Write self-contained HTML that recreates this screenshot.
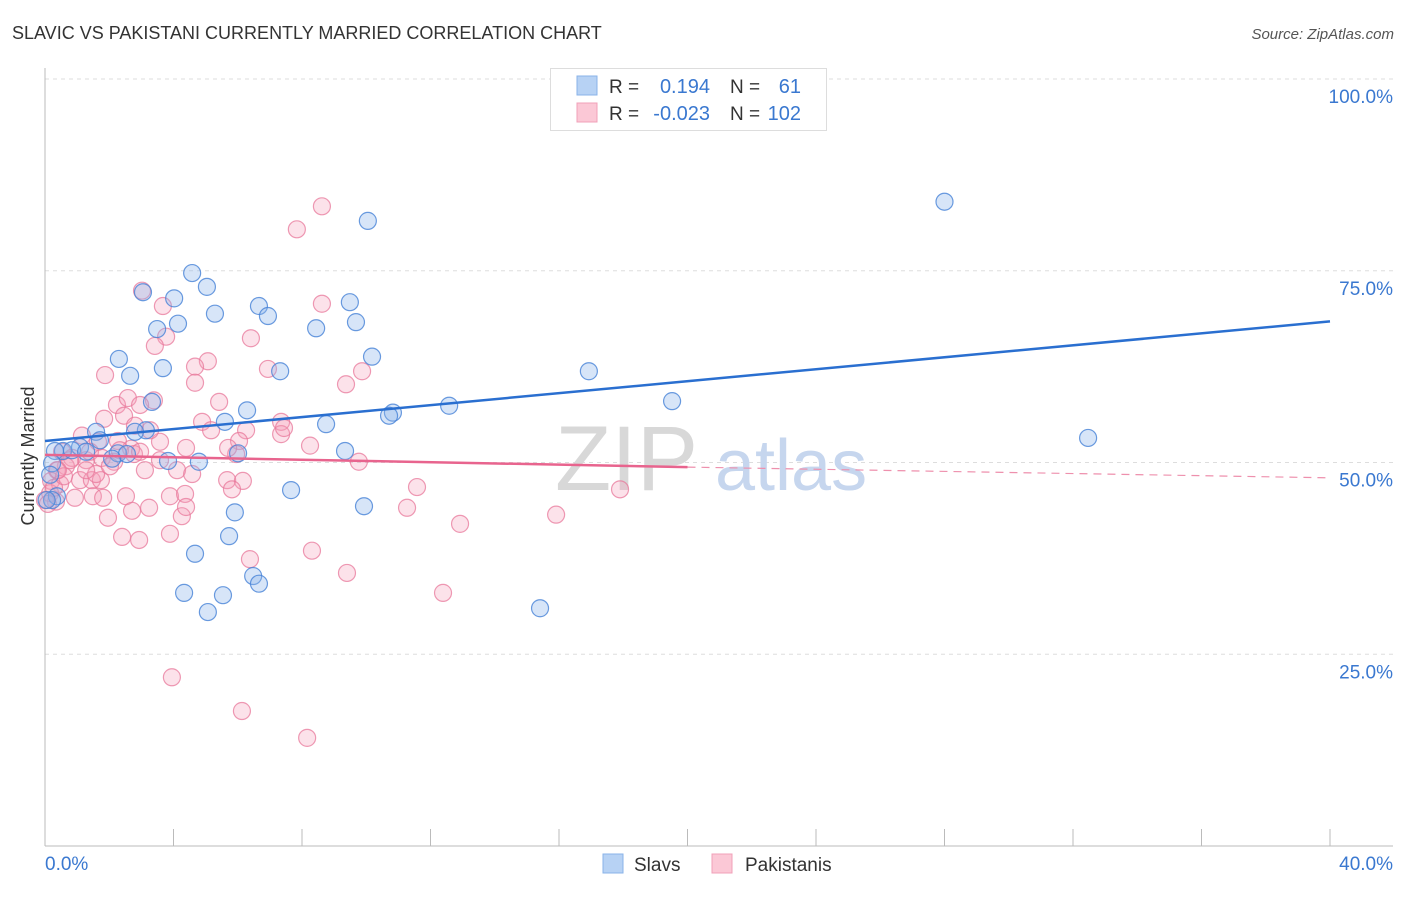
<!DOCTYPE html>
<html><head><meta charset="utf-8"><style>
body{margin:0;background:#fff;font-family:"Liberation Sans",sans-serif;}
svg text{font-family:"Liberation Sans",sans-serif;}
</style></head><body>
<svg id="chart" width="1406" height="892" viewBox="0 0 1406 892">
<text x="12" y="39" font-size="18" fill="#333">SLAVIC VS PAKISTANI CURRENTLY MARRIED CORRELATION CHART</text>
<text x="1394" y="39" font-size="15" fill="#555" font-style="italic" text-anchor="end">Source: ZipAtlas.com</text>
<g id="grid"></g>
<g>
<text x="555" y="490" font-size="92" fill="#d8d8d8" font-family="Liberation Serif">ZIP</text>
<text x="715" y="490" font-size="72" fill="#c6d6ee">atlas</text>
</g>
<g id="axes"></g>
<g id="pts"></g>
<g id="trends"></g>
<text transform="translate(34,456) rotate(-90)" font-size="18" fill="#333" text-anchor="middle">Currently Married</text>
<g>
<rect x="550.5" y="68.5" width="276" height="62" fill="#fff" stroke="#ddd"/>
<rect x="577" y="76" width="20" height="19" fill="#b7d2f4" stroke="#8ab3e8"/>
<rect x="577" y="103" width="20" height="19" fill="#fbc8d6" stroke="#f0a0b8"/>
<text x="609" y="93" font-size="19" fill="#333">R =</text>
<text x="710" y="93" font-size="20" fill="#3a78d0" text-anchor="end">0.194</text>
<text x="730" y="93" font-size="19" fill="#333">N =</text>
<text x="801" y="93" font-size="20" fill="#3a78d0" text-anchor="end">61</text>
<text x="609" y="120" font-size="19" fill="#333">R =</text>
<text x="710" y="120" font-size="20" fill="#3a78d0" text-anchor="end">-0.023</text>
<text x="730" y="120" font-size="19" fill="#333">N =</text>
<text x="801" y="120" font-size="20" fill="#3a78d0" text-anchor="end">102</text>
</g>
<g>
<rect x="603" y="854" width="20" height="19" fill="#b7d2f4" stroke="#8ab3e8"/>
<text x="634" y="871" font-size="19" fill="#333">Slavs</text>
<rect x="712" y="854" width="20" height="19" fill="#fbc8d6" stroke="#f0a0b8"/>
<text x="745" y="871" font-size="19" fill="#333">Pakistanis</text>
</g>
</svg>
<script>
const yTicks=[100,75,50,25];
const yTickLabels=["100.0%","75.0%","50.0%","25.0%"];
const xTicks=[0,4,8,12,16,20,24,28,32,36,40];
const xEndLabels=["0.0%","40.0%"];
const slavX=[28.0,10.05,4.58,5.04,3.05,4.02,9.49,6.66,6.94,5.29,3.49,4.14,8.44,9.68,10.18,2.30,3.67,2.65,7.32,16.93,19.52,12.58,3.33,6.29,10.83,10.71,5.60,8.75,3.14,1.59,32.47,9.34,6.01,1.71,1.09,0.56,0.31,2.27,2.55,3.83,4.79,2.09,0.22,7.66,9.93,5.91,0.37,4.67,5.73,6.48,6.66,4.33,5.54,5.07,15.41,0.22,0.84,1.28,2.80,0.05,0.16];
const slavY=[84.0,81.5,74.7,72.9,72.2,71.4,70.9,70.4,69.1,69.4,67.4,68.1,67.5,68.3,63.8,63.5,62.3,61.3,61.9,61.9,58.0,57.4,57.9,56.8,56.5,56.1,55.3,55.0,54.2,54.0,53.2,51.5,51.2,52.9,52.0,51.5,51.5,51.2,51.1,50.2,50.1,50.5,49.9,46.4,44.3,43.5,45.6,38.1,40.4,35.2,34.2,33.0,32.7,30.5,31.0,45.1,51.6,51.4,54.0,45.1,48.4];
const pakX=[8.62,7.84,3.02,3.67,8.62,3.77,3.42,6.41,5.07,4.67,1.87,6.94,9.87,9.37,4.67,3.39,2.24,2.58,5.42,1.84,2.46,4.89,7.35,5.17,6.26,2.80,1.15,3.58,4.39,6.04,7.35,8.25,1.65,2.27,2.68,0.53,0.84,1.28,1.40,1.77,2.77,3.58,3.11,4.11,4.58,5.67,6.16,2.15,9.77,0.65,0.37,0.19,0.47,1.09,1.46,1.74,1.59,0.16,0.34,0.93,1.49,1.81,2.52,3.89,4.36,5.82,11.58,17.90,1.96,2.71,3.24,4.26,4.39,11.27,12.92,15.91,2.40,2.93,3.89,6.38,8.31,9.40,12.39,3.95,6.13,8.16,0.0,0.09,0.28,0.59,0.78,1.28,2.02,2.33,2.96,3.27,5.95,5.70,7.44,2.96,0.40];
const pakY=[83.4,80.4,72.4,70.4,70.7,66.4,65.2,66.2,63.2,62.5,61.4,62.2,61.9,60.2,60.4,58.1,57.5,58.4,57.9,55.7,56.1,55.3,55.3,54.2,54.2,54.8,53.5,52.7,51.9,52.8,53.7,52.2,52.7,52.8,51.8,51.4,50.6,50.3,51.4,50.6,51.1,50.3,49.0,49.0,48.5,47.7,47.6,50.1,50.1,49.5,49.0,47.6,47.2,47.7,47.7,47.7,48.5,46.0,44.9,45.4,45.6,45.4,45.6,45.6,45.9,46.5,46.8,46.5,42.8,43.7,44.1,43.0,44.2,44.1,42.0,43.2,40.3,39.9,40.7,37.4,38.5,35.6,33.0,22.0,17.6,14.1,45.1,44.6,46.7,48.2,50.3,49.0,49.5,51.6,51.4,54.2,51.1,51.9,54.5,57.5,49.0];
const slavTrend=[52.8,68.4];
const pakTrendSolid=[51.0,49.4];
const pakTrendDash=[49.4,48.0];

const NS="http://www.w3.org/2000/svg";
const X=v=>45+v/40*1285;
const Y=v=>846-v*7.67;
function mk(tag,attrs,parent){const e=document.createElementNS(NS,tag);for(const k in attrs)e.setAttribute(k,attrs[k]);parent.appendChild(e);return e;}
const grid=document.getElementById('grid'),axes=document.getElementById('axes'),pts=document.getElementById('pts'),tr=document.getElementById('trends');
yTicks.forEach((t,i)=>{
 const l=mk('line',{x1:45,x2:1393,y1:Y(t),y2:Y(t),stroke:'#ddd','stroke-dasharray':'4,4'},grid);
 
 
 const tx=mk('text',{x:1393,y:Y(t)+24,'font-size':19,fill:'#3a78d0','text-anchor':'end'},axes);
 tx.textContent=yTickLabels[i];
 
 
});
const yl=mk('line',{x1:45,x2:45,y1:68,y2:846,stroke:'#bbb'},axes);


const xl=mk('line',{x1:45,x2:1393,y1:846,y2:846,stroke:'#bbb'},axes);


xTicks.forEach(t=>{
 const l=mk('line',{x1:X(t),x2:X(t),y1:829,y2:846,stroke:'#bbb'},axes);
 
 
});
const xa=mk('text',{x:45,y:870,'font-size':19,fill:'#3a78d0'},axes);xa.textContent=xEndLabels[0];


const xb=mk('text',{x:1393,y:870,'font-size':19,fill:'#3a78d0','text-anchor':'end'},axes);xb.textContent=xEndLabels[1];


pakX.forEach((v,i)=>{
 const c=mk('circle',{cx:X(v),cy:Y(pakY[i]),r:8.5,fill:'rgba(244,160,185,0.3)',stroke:'rgba(232,120,155,0.75)','stroke-width':1.2},pts);
 
 
});
slavX.forEach((v,i)=>{
 const c=mk('circle',{cx:X(v),cy:Y(slavY[i]),r:8.5,fill:'rgba(140,180,235,0.35)',stroke:'rgba(70,130,215,0.8)','stroke-width':1.2},pts);
 
 
});
const l1=mk('line',{x1:X(0),y1:Y(slavTrend[0]),x2:X(40),y2:Y(slavTrend[1]),stroke:'#2a6fd0','stroke-width':2.5},tr);


const l2=mk('line',{x1:X(0),y1:Y(pakTrendSolid[0]),x2:X(20),y2:Y(pakTrendSolid[1]),stroke:'#e8648e','stroke-width':2.5},tr);


const l3=mk('line',{x1:X(20),y1:Y(pakTrendDash[0]),x2:X(40),y2:Y(pakTrendDash[1]),stroke:'#ee90ad','stroke-width':1.2,'stroke-dasharray':'8,6'},tr);


</script>
</body></html>
